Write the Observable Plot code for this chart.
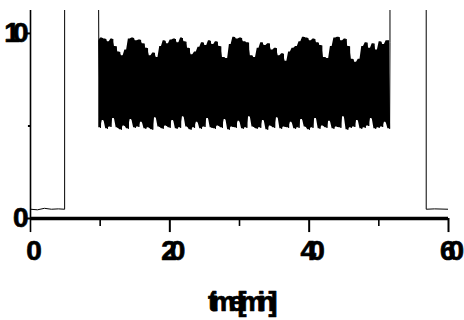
<!DOCTYPE html>
<html><head><meta charset="utf-8">
<script src="https://cdn.jsdelivr.net/npm/d3@7"></script>
<script src="https://cdn.jsdelivr.net/npm/@observablehq/plot@0.6"></script>
<style>
body{margin:0;background:#fff}
svg{font-family:"Liberation Sans",Arial,sans-serif}
</style></head><body><div id="chart"></div>
<script>
// time (min) / signal before the oscillating burst
const preTime  = [0, 1, 2, 3, 4, 4.9, 4.9, 9.75];
const preValue = [0.5, 0.47, 0.55, 0.5, 0.52, 0.5, 14, 14];
// burst: peaks every 0.5 min starting at 9.8, troughs in between
const burstStart = 9.8;
const burstStep = 0.5;
const burstPeaks = [9.6,9.75,9.7,9.55,9.7,9.3,9.0,8.8,9.1,9.7,
  9.75,9.6,9.65,9.45,9.2,8.8,8.95,8.7,9.3,9.6,
  9.45,9.65,9.7,9.5,9.75,9.55,9.2,8.85,9.0,9.25,
  9.5,9.35,9.6,9.4,9.55,9.3,8.7,8.65,9.4,9.8,
  9.7,9.75,9.55,9.5,8.8,8.7,9.2,9.5,9.35,9.45,
  9.1,9.2,8.8,8.9,8.5,9.0,9.2,9.3,9.55,9.8,
  9.75,9.6,9.7,9.5,9.35,8.7,8.65,9.3,9.75,9.8,
  9.6,9.7,9.3,8.6,8.45,8.6,9.3,9.5,9.2,9.45,
  9.1,9.55,9.4,9.6];
const burstTroughs = [4.9,5.3,4.85,4.95,5.4,4.9,4.8,5.0,4.85,5.35,
  4.9,4.95,5.2,4.85,4.9,4.8,5.45,4.95,4.85,5.0,
  4.9,5.3,4.85,4.9,5.5,4.95,4.8,4.9,5.2,4.85,
  4.95,5.4,4.9,4.85,5.0,4.9,5.35,4.8,4.95,4.9,
  5.25,4.85,4.9,5.5,4.95,4.85,4.9,5.3,4.8,5.0,
  4.9,5.45,4.85,4.95,4.9,5.2,4.85,4.9,5.35,4.95,
  4.8,4.9,5.4,4.85,5.0,4.9,5.25,4.85,4.95,4.9,
  5.5,4.8,4.9,4.95,5.3,4.85,4.9,5.0,5.4,4.85,
  4.9,4.95,5.2,4.85];
// after the burst
const postTime  = [51.6, 51.6, 56.8, 56.8, 58, 60];
const postValue = [9.5, 14, 14, 0.5, 0.52, 0.5];

const xTicks = [0, 20, 40, 60];
const xMinorTicks = [10, 30, 50];
const yTicks = [0, 10];
const yMinorTicks = [5];
const xTitle = "time[min]";

const line = [];
preTime.forEach((t, i) => line.push({t, v: preValue[i]}));
const band = [];
const n = Math.min(burstPeaks.length, burstTroughs.length);
for (let i = 0; i < n; i++) {
  const t = burstStart + i * burstStep;
  line.push({t, v: burstPeaks[i]});
  line.push({t: t + burstStep / 2, v: burstTroughs[i]});
  band.push({t, lo: burstTroughs[i], hi: burstPeaks[i]});
  band.push({t: t + burstStep / 2, lo: burstTroughs[i], hi: burstPeaks[Math.min(i + 1, n - 1)]});
}
postTime.forEach((t, i) => line.push({t, v: postValue[i]}));

const chart = Plot.plot({
  width: 464, height: 320,
  marginLeft: 30, marginRight: 16, marginTop: 10, marginBottom: 102,
  x: {domain: [0, 60], axis: null},
  y: {domain: [0, 11.24], axis: null},
  marks: [
    Plot.areaY(band, {x: "t", y1: "lo", y2: "hi", fill: "black", clip: true}),
    Plot.line(line, {x: "t", y: "v", stroke: "black", strokeWidth: 1, clip: true}),
    Plot.ruleY([0], {stroke: "black", strokeWidth: 3.5}),
    Plot.ruleX([0], {y1: -0.76, y2: 11.24, stroke: "black", strokeWidth: 1.6}),
    Plot.ruleX(xTicks.filter(d => d > 0), {y1: 0, y2: -0.76, stroke: "black", strokeWidth: 2}),
    Plot.ruleX(xMinorTicks, {y1: 0, y2: -0.43, stroke: "black", strokeWidth: 1.6}),
    Plot.ruleY(yTicks, {x1: -0.43, x2: 0, stroke: "black", strokeWidth: 2}),
    Plot.ruleY(yMinorTicks, {x1: -0.3, x2: 0, stroke: "black", strokeWidth: 2}),
    Plot.text(xTicks, {x: d => d, text: d => String(d), frameAnchor: "bottom", lineAnchor: "top", dy: 22,
      fontSize: 28, fontWeight: "bold", fill: "black", stroke: "black", strokeWidth: 0.7}),
    Plot.text(yTicks, {y: d => d, text: d => String(d), frameAnchor: "left", textAnchor: "end", dx: -9,
      fontSize: 28, fontWeight: "bold", fill: "black", stroke: "black", strokeWidth: 0.7}),
    Plot.text([xTitle], {text: d => d, frameAnchor: "bottom", lineAnchor: "top", dy: 73,
      fontSize: 27, fontWeight: "bold", fill: "black", stroke: "black", strokeWidth: 0.7})
  ]
});
d3.select(chart).selectAll("text").each(function() {
  const isTitle = this.textContent === xTitle;
  this.setAttribute("letter-spacing", isTitle ? "-6.5" : "-7");
  this.style.letterSpacing = isTitle ? "-6.5px" : "-7px";
});
document.getElementById("chart").appendChild(chart);
</script></body></html>
